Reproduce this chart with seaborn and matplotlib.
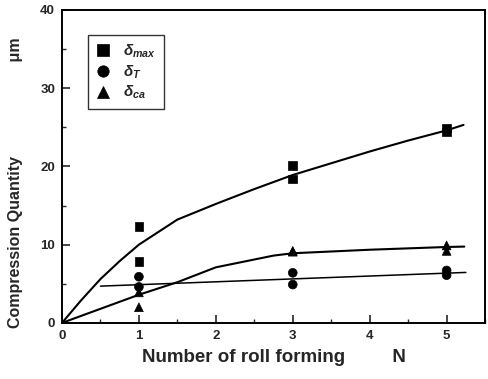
import numpy as np
import pandas as pd
import matplotlib
matplotlib.use("Agg")
import matplotlib.pyplot as plt
from matplotlib.ticker import MultipleLocator
import seaborn as sns

# Measured compression quantities (two specimens per roll-forming count)
n_max = [1, 1, 3, 3, 5, 5]
d_max = [12.3, 7.8, 20.1, 18.4, 24.9, 24.4]
n_T = [1, 1, 3, 3, 5, 5]
d_T = [5.9, 4.6, 6.4, 4.9, 6.7, 6.1]
n_ca = [1, 1, 3, 3, 5, 5]
d_ca = [2.0, 3.9, 9.1, 9.2, 9.9, 9.2]

# Fitted trend curves
fit_max_x = [0, 0.25, 0.5, 0.75, 1.0, 1.5, 2.0, 2.5, 3.0, 3.5, 4.0, 4.5, 5.0, 5.22]
fit_max_y = [0, 2.9, 5.6, 7.9, 10.0, 13.2, 15.2, 17.1, 18.9, 20.4, 21.9, 23.3, 24.6, 25.3]
fit_T_x = [0.5, 5.25]
fit_T_y = [4.7, 6.45]
fit_ca_x = [0, 1.0, 1.5, 2.0, 2.75, 3.0, 4.0, 5.0, 5.23]
fit_ca_y = [0, 3.6, 5.2, 7.1, 8.6, 8.9, 9.35, 9.7, 9.75]

labels = [r"$\delta_{max}$", r"$\delta_{T}$", r"$\delta_{ca}$"]

pts = pd.DataFrame({
    "N": n_max + n_T + n_ca,
    "d": d_max + d_T + d_ca,
    "series": [labels[0]] * len(n_max) + [labels[1]] * len(n_T) + [labels[2]] * len(n_ca),
})

sns.set_style("ticks")
plt.rcParams["font.family"] = ["Liberation Sans", "DejaVu Sans"]
plt.rcParams["font.weight"] = "bold"
plt.rcParams["mathtext.fontset"] = "custom"
plt.rcParams["mathtext.rm"] = "Liberation Sans:bold"
plt.rcParams["mathtext.it"] = "Liberation Sans:bold:italic"
plt.rcParams["mathtext.bf"] = "Liberation Sans:bold"

fig = plt.figure(figsize=(4.88, 3.79), dpi=100)
ax = fig.add_axes([0.127, 0.148, 0.867, 0.826])

for fx, fy, lw in [(fit_max_x, fit_max_y, 1.5), (fit_T_x, fit_T_y, 1.1), (fit_ca_x, fit_ca_y, 1.5)]:
    sns.lineplot(x=fx, y=fy, ax=ax, color="black", lw=lw, sort=False, estimator=None)

sns.scatterplot(data=pts, x="N", y="d", style="series", markers=["s", "o", "^"],
                color="black", s=40, edgecolor="black", linewidth=0.5, ax=ax, legend=True)

ax.set_xlim(0, 5.5)
ax.set_ylim(0, 40)
ax.xaxis.set_major_locator(MultipleLocator(1))
ax.xaxis.set_minor_locator(MultipleLocator(0.5))
ax.yaxis.set_major_locator(MultipleLocator(10))
ax.yaxis.set_minor_locator(MultipleLocator(5))
ax.tick_params(which="major", direction="in", length=6, width=1.2, labelsize=9.5, pad=5)
ax.tick_params(which="minor", direction="in", length=3, width=1.0)
for lab in ax.get_xticklabels() + ax.get_yticklabels():
    lab.set_fontweight("bold")
for sp in ax.spines.values():
    sp.set_visible(True)
    sp.set_linewidth(1.4)
    sp.set_color("black")

ax.set_xlabel("Number of roll forming         N", fontsize=13.5, fontweight="bold", labelpad=5)
ax.set_ylabel("Compression Quantity" + " " * 21 + "\u03bcm", fontsize=11.5, fontweight="bold")
ax.yaxis.set_label_coords(-0.092, 0.447)

leg = ax.legend(loc="upper left", bbox_to_anchor=(0.061, 0.92), frameon=True, fancybox=False,
                edgecolor="black", fontsize=11, handletextpad=0.8, borderpad=0.5,
                labelspacing=0.22, handlelength=1.0, markerscale=1.3, borderaxespad=0)
leg.get_frame().set_linewidth(1.0)

fig.savefig("out.png", dpi=100)
